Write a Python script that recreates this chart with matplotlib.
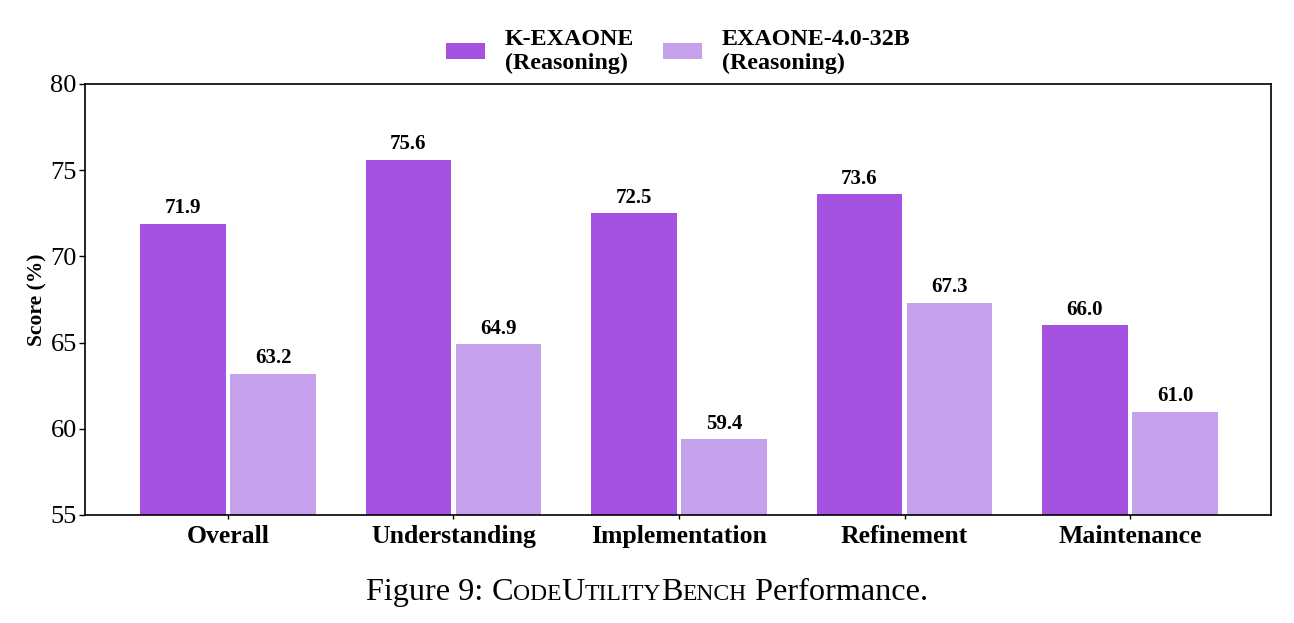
import matplotlib
matplotlib.use("Agg")
import matplotlib.pyplot as plt
import numpy as np

categories = ["Overall", "Understanding", "Implementation", "Refinement", "Maintenance"]
k_exaone = [71.9, 75.6, 72.5, 73.6, 66.0]
exaone_32b = [63.2, 64.9, 59.4, 67.3, 61.0]
series_names = ["K-EXAONE\n(Reasoning)", "EXAONE-4.0-32B\n(Reasoning)"]
yticks = [55, 60, 65, 70, 75, 80]

plt.rcParams['font.family'] = ['Liberation Serif', 'DejaVu Serif']

c1 = "#a552e3"
c2 = "#c5a1eb"

fig = plt.figure(figsize=(12.94, 6.23), dpi=100)
ax = fig.add_axes([85/1294, 1-515/623, (1271-85)/1294, (515-84)/623])

x = np.arange(len(categories))
w = 0.38
off = 0.2
b1 = ax.bar(x - off, k_exaone, w, color=c1, label=series_names[0])
b2 = ax.bar(x + off, exaone_32b, w, color=c2, label=series_names[1])

for bars, vals in ((b1, k_exaone), (b2, exaone_32b)):
    for b, v in zip(bars, vals):
        ax.annotate(f"{v:.1f}", (b.get_x() + b.get_width()/2, v), xytext=(0, 4),
                    textcoords="offset points", ha="center", va="bottom",
                    fontsize=15, fontweight="bold")

ax.set_ylim(55, 80)
ax.set_xlim(-0.634, 4.625)
ax.set_yticks(yticks)
ax.set_xticks(x)
ax.set_xticklabels(categories, fontsize=18.5, fontweight="bold")
ax.tick_params(axis='y', labelsize=19, length=4.5, width=1.0, pad=1.5)
ax.tick_params(axis='x', length=3, width=1.0, pad=4)
ax.set_ylabel("Score (%)", fontsize=15.5, fontweight="bold", labelpad=2)
for s in ax.spines.values():
    s.set_linewidth(1.2)

ax.legend(loc="lower center", bbox_to_anchor=(0.5, 1.0), ncol=2, frameon=False,
          prop={'weight': 'bold', 'size': 17.3}, handlelength=1.62, handleheight=0.67,
          columnspacing=1.2, handletextpad=0.83, borderaxespad=0.0)

# caption with small caps emulated
cap_parts = [("Figure 9: ", 23.2), ("C", 23.2), ("ODE", 17), ("U", 23.2), ("TILITY", 17),
             ("B", 23.2), ("ENCH", 17), (" Performance.", 23.2)]
renderer = fig.canvas.get_renderer()
texts = []
for s, sz in cap_parts:
    t = fig.text(0, 1-600/623, s, fontsize=sz, ha="left", va="baseline")
    texts.append(t)
widths = [t.get_window_extent(renderer).width for t in texts]
total = sum(widths)
xpos = 1294/2 - total/2
for t, wd in zip(texts, widths):
    t.set_x(xpos/1294)
    xpos += wd

fig.savefig("out.png", dpi=100)
